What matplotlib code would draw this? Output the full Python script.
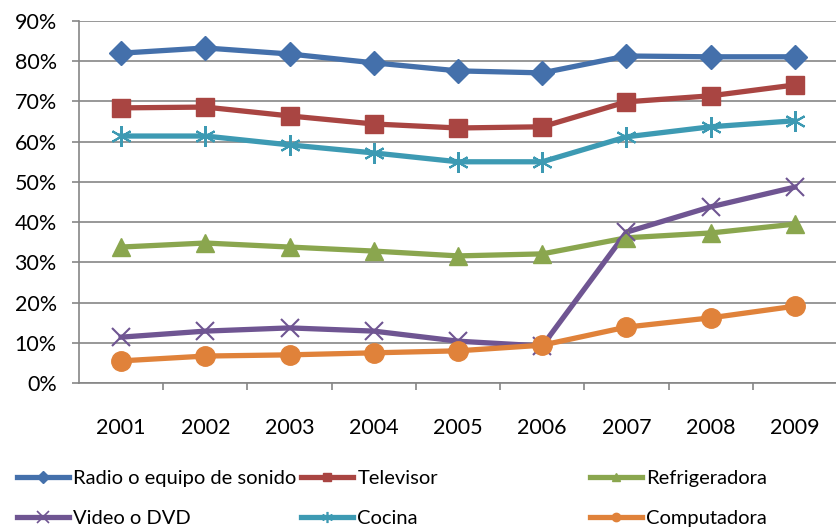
import matplotlib.pyplot as plt
from matplotlib.lines import Line2D
from matplotlib.ticker import FuncFormatter, MultipleLocator

plt.rcParams['font.family'] = ['Lato', 'DejaVu Sans']

anios = ['2001', '2002', '2003', '2004', '2005', '2006', '2007', '2008', '2009']
radio = [82.0, 83.3, 81.8, 79.6, 77.6, 77.1, 81.3, 81.1, 81.1]
televisor = [68.4, 68.6, 66.4, 64.4, 63.4, 63.7, 69.9, 71.4, 74.1]
refrigeradora = [33.8, 34.8, 33.8, 32.8, 31.6, 32.1, 36.1, 37.3, 39.5]
video = [11.4, 12.9, 13.7, 12.9, 10.4, 9.2, 37.5, 43.8, 48.7]
cocina = [61.4, 61.4, 59.2, 57.2, 55.0, 55.0, 61.2, 63.7, 65.2]
computadora = [5.5, 6.7, 7.0, 7.5, 8.0, 9.4, 13.9, 16.2, 19.1]

series = [
    ('Radio o equipo de sonido', radio, '#4470AB', 'D', 12),
    ('Televisor', televisor, '#A94542', 's', 13),
    ('Refrigeradora', refrigeradora, '#8AA64E', '^', 13),
    ('Video o DVD', video, '#6F5592', 'x', 13),
    ('Cocina', cocina, '#3D9AB3', (6, 2, 0), 15),
    ('Computadora', computadora, '#E0823A', 'o', 14),
]

fig = plt.figure(figsize=(8.37, 5.28), dpi=100)
ax = fig.add_axes([79 / 837, 1 - 383 / 528, 758 / 837, 362 / 528])

x = list(range(len(anios)))
handles = {}
for nombre, valores, color, marcador, tam in series:
    abierto = marcador in ('x', (6, 2, 0))
    ax.plot(x, valores, color=color, lw=3.8, zorder=3)
    if abierto:
        ax.plot(x, valores, ls='none', marker=marcador, ms=tam, mec=color,
                mew=1.5, zorder=4)
        h = Line2D([], [], color=color, lw=3.8, marker=marcador, ms=8, mec=color, mew=1.2)
    else:
        ax.plot(x, valores, ls='none', marker=marcador, ms=tam, mfc=color,
                mec=color, zorder=4)
        h = Line2D([], [], color=color, lw=3.8, marker=marcador, ms=6, mfc=color, mec=color)
    handles[nombre] = h

ax.set_xlim(-0.5, len(anios) - 0.5)
ax.set_ylim(0, 90)
ax.yaxis.set_major_locator(MultipleLocator(10))
ax.yaxis.set_major_formatter(FuncFormatter(lambda v, p: f'{v:.0f}%'))
ax.set_xticks(x)
ax.set_xticklabels(anios)
ax.set_xticks([i + 0.5 for i in x[:-1]], minor=True)
ax.tick_params(axis='x', which='major', length=0, pad=25, labelsize=15.5)
ax.tick_params(axis='x', which='minor', length=5, color='#868686', width=1.2)
ax.tick_params(axis='y', length=5, color='#868686', width=1.2, labelsize=15.5, pad=11)
ax.grid(axis='y', color='#868686', lw=1.2)
ax.set_axisbelow(True)
for lado in ['top', 'right']:
    ax.spines[lado].set_visible(False)
for lado in ['left', 'bottom']:
    ax.spines[lado].set_color('#868686')
    ax.spines[lado].set_linewidth(1.2)

# leyenda: cada entrada colocada en su sitio (3 columnas x 2 filas)
posiciones = {
    'Radio o equipo de sonido': (17, 478),
    'Televisor': (301, 478),
    'Refrigeradora': (590, 478),
    'Video o DVD': (17, 518),
    'Cocina': (301, 518),
    'Computadora': (590, 518),
}
for nombre, (px, py) in posiciones.items():
    fig.legend([handles[nombre]], [nombre], loc='center left',
               bbox_to_anchor=(px / 837, 1 - py / 528), frameon=False,
               fontsize=14.5, handlelength=2.6, handletextpad=0.2,
               borderpad=0, borderaxespad=0)

fig.savefig('out.png', dpi=100)
